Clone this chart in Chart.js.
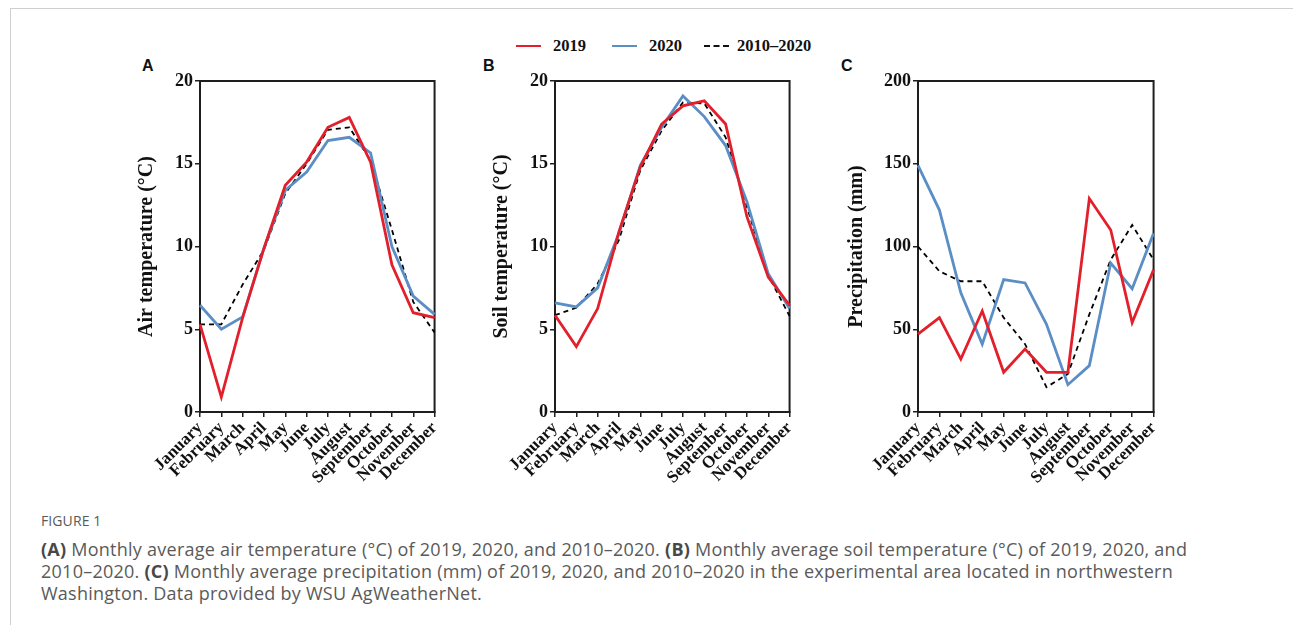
<!DOCTYPE html>
<html>
<head>
<meta charset="utf-8">
<script src="https://cdn.jsdelivr.net/npm/chart.js@4.4.0/dist/chart.umd.min.js"></script>
<style>
  html, body { margin: 0; padding: 0; background: #fff; }
  body { width: 1293px; height: 625px; position: relative; overflow: hidden; }
  .frame { position: absolute; left: 10px; top: 8px; right: -2px; bottom: -2px;
           border-top: 1.5px solid #cfcfcf; border-left: 1.5px solid #cfcfcf; }
  .panel { position: absolute; }
  .tag { position: absolute; font: bold 16px "Liberation Sans", Arial, sans-serif; color: #111; }
  .legend { position: absolute; top: 36px; height: 20px; font: bold 16.5px "Liberation Serif", "Times New Roman", serif; color: #111; }
  .legend .sw { position: absolute; top: 9px; width: 25px; height: 0; }
  .legend .tx { position: absolute; top: 0; line-height: 20px; }
  .caption { position: absolute; left: 41px; top: 512px; color: #5a5a5a; font-family: "Open Sans", sans-serif; }
  .caption .fig { font-size: 14px; line-height: 18px; letter-spacing: 0.1px; margin-bottom: 8px; }
  .caption .txt { font-size: 18px; line-height: 22px; letter-spacing: 0.25px; white-space: nowrap; }
  .caption b { color: #484848; font-weight: 700; }
</style>
</head>
<body>
<div class="frame"></div>

<div class="tag" style="left:142px; top:57px;">A</div>
<div class="tag" style="left:483px; top:57px;">B</div>
<div class="tag" style="left:841px; top:57px;">C</div>

<div class="legend" style="left:0; width:1293px;">
  <div class="sw" style="left:516px; border-top:2.5px solid #e2202b;"></div>
  <div class="tx" style="left:553px;">2019</div>
  <div class="sw" style="left:612px; border-top:2.5px solid #5b8ec4;"></div>
  <div class="tx" style="left:649px;">2020</div>
  <div class="sw" style="left:704px; border-top:2px dashed #111;"></div>
  <div class="tx" style="left:737px;">2010–2020</div>
</div>

<canvas id="chartA" class="panel" style="left:130px; top:60px;"></canvas>
<canvas id="chartB" class="panel" style="left:485px; top:60px;"></canvas>
<canvas id="chartC" class="panel" style="left:840px; top:60px;"></canvas>

<div class="caption">
  <div class="fig">FIGURE 1</div>
  <div class="txt"><b>(A)</b> Monthly average air temperature (°C) of 2019, 2020, and 2010–2020. <b>(B)</b> Monthly average soil temperature (°C) of 2019, 2020, and<br>2010–2020. <b>(C)</b> Monthly average precipitation (mm) of 2019, 2020, and 2010–2020 in the experimental area located in northwestern<br>Washington. Data provided by WSU AgWeatherNet.</div>
</div>

<script>
// данные
const months = ['January', 'February', 'March', 'April', 'May', 'June', 'July',
  'August', 'September', 'October', 'November', 'December'];

// (A) температура воздуха, °C
const air2019 = [5.3, 0.9, 5.7, 9.9, 13.7, 15.1, 17.2, 17.8, 15.1, 8.9, 6.0, 5.7];
const air2020 = [6.45, 5.0, 5.75, 9.9, 13.4, 14.5, 16.4, 16.6, 15.65, 10.0, 7.0, 5.9];
const airMean = [5.3, 5.3, 7.7, 9.8, 13.2, 15.0, 17.05, 17.2, 15.2, 11.0, 6.65, 4.8];

// (B) температура почвы, °C
const soil2019 = [5.85, 3.95, 6.25, 10.9, 14.8, 17.4, 18.5, 18.8, 17.4, 11.8, 8.15, 6.45];
const soil2020 = [6.6, 6.35, 7.5, 10.8, 14.9, 17.2, 19.1, 17.85, 16.1, 12.7, 8.35, 6.25];
const soilMean = [5.85, 6.3, 7.75, 10.4, 14.6, 17.0, 18.7, 18.65, 16.6, 12.4, 8.25, 5.8];

// (C) осадки, мм
const precip2019 = [47, 57, 32, 61, 24, 38, 24, 24, 129, 110, 54, 86];
const precip2020 = [149, 122, 72, 41, 80, 78, 53, 16.5, 28, 90, 74.5, 108];
const precipMean = [100, 85, 79, 79, 57, 41, 15, 23, 59, 92, 113, 92];

const RED = '#e2202b';
const BLUE = '#5b8ec4';
const INK = '#1e1e1e';
const serif = '"Liberation Serif", "Times New Roman", serif';

// рамка вокруг области графика
const boxPlugin = {
  id: 'box',
  beforeDatasetsDraw(chart) {
    const a = chart.chartArea, ctx = chart.ctx;
    ctx.save();
    ctx.strokeStyle = INK;
    ctx.lineWidth = 2;
    ctx.strokeRect(a.left, a.top, a.right - a.left, a.bottom - a.top);
    ctx.restore();
  }
};

function makeChart(id, width, yWidth, title, max, step, s2019, s2020, sMean) {
  const canvas = document.getElementById(id);
  canvas.width = width;
  canvas.height = 440;
  return new Chart(canvas.getContext('2d'), {
    type: 'line',
    data: {
      labels: months,
      datasets: [
        { label: '2019', data: s2019, borderColor: RED, borderWidth: 2.8, pointRadius: 0, tension: 0 },
        { label: '2020', data: s2020, borderColor: BLUE, borderWidth: 2.8, pointRadius: 0, tension: 0 },
        { label: '2010–2020', data: sMean, borderColor: '#000', borderWidth: 1.8, borderDash: [5, 4], pointRadius: 0, tension: 0 }
      ]
    },
    options: {
      responsive: false,
      animation: false,
      layout: { padding: { top: 21, right: 12, left: 0, bottom: 0 } },
      plugins: { legend: { display: false }, tooltip: { enabled: false } },
      scales: {
        x: {
          offset: false,
          afterFit: s => { s.height = 88; },
          grid: { display: true, drawOnChartArea: false, drawTicks: true, tickLength: 5, color: INK, lineWidth: 1.5 },
          border: { display: true, color: INK, width: 2 },
          ticks: { autoSkip: false, minRotation: 45, maxRotation: 45, padding: 1, color: '#111',
                   font: { family: serif, size: 17, weight: 'bold' } }
        },
        y: {
          min: 0, max: max,
          afterFit: s => { s.width = yWidth; },
          grid: { display: true, drawOnChartArea: false, drawTicks: true, tickLength: 5, color: INK, lineWidth: 1.5 },
          border: { display: true, color: INK, width: 2 },
          ticks: { stepSize: step, padding: 2, color: '#111', font: { family: serif, size: 18, weight: 'bold' } },
          title: { display: true, text: title, color: '#111', padding: { top: 5, bottom: 0 },
                   font: { family: serif, size: 20, weight: 'bold' } }
        }
      }
    },
    plugins: [boxPlugin]
  });
}

makeChart('chartA', 320, 70, 'Air temperature (°C)', 20, 5, air2019, air2020, airMean);
makeChart('chartB', 320, 70, 'Soil temperature (°C)', 20, 5, soil2019, soil2020, soilMean);
makeChart('chartC', 329, 78, 'Precipitation (mm)', 200, 50, precip2019, precip2020, precipMean);
</script>
</body>
</html>
